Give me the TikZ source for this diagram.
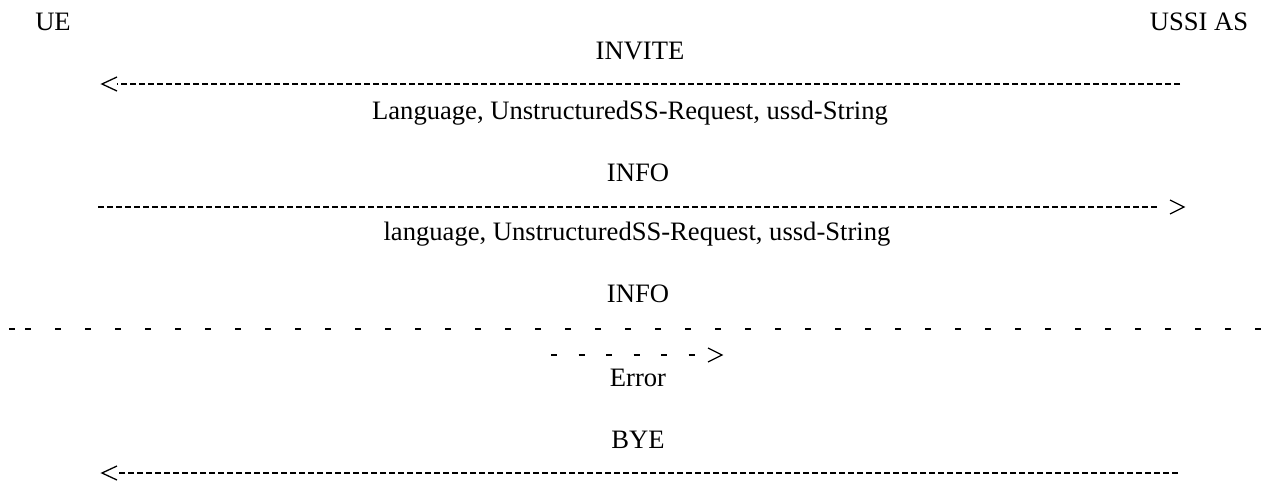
\documentclass[tikz,border=0pt]{standalone}
\usepackage{fontspec}
\setmainfont{Liberation Serif}
\usetikzlibrary{positioning}

\tikzset{
  lbl/.style={font=\fontsize{26.6}{30}\selectfont, inner sep=0pt, anchor=base},
  hyph/.style={line width=2pt, dash pattern=on 6.4pt off 2.6pt},
  widehyph/.style={line width=2pt, dash pattern=on 6.4pt off 23.6pt},
  chev/.style={line width=1.3pt, line join=miter},
}

\begin{document}
\begin{tikzpicture}[x=1pt,y=-1pt]
    \useasboundingbox (0,0) rectangle (1276,490);
    % end points
    \node[lbl] (ue) at (53,30) {UE};
    \node[lbl] (as) at (1199,30) {USSI AS};
    % INVITE
    \node[lbl] (invite) at (640,59) {INVITE};
    \coordinate (m1s) at (1180,84);
    \coordinate (m1e) at (117,84);
    \coordinate (m1t) at (102,84);
    \draw[hyph] (m1s) -- (m1e);
    \draw[chev] (m1t) ++(15,-7) -- (m1t) -- ++(15,7);
    \node[lbl] (p1) at (630,119) {Language, UnstructuredSS-Request, ussd-String};
    % INFO
    \node[lbl] (info1) at (638,181) {INFO};
    \coordinate (m2s) at (98,207);
    \coordinate (m2e) at (1157.4,207);
    \coordinate (m2t) at (1184,207);
    \draw[hyph] (m2s) -- (m2e);
    \draw[chev] (m2t) ++(-14,-7) -- (m2t) -- ++(-14,7);
    \node[lbl] (p2) at (637,240) {language, UnstructuredSS-Request, ussd-String};
    % INFO (spaced out)
    \node[lbl] (info2) at (638,302) {INFO};
    \coordinate (m3a) at (9,329);
    \coordinate (m3s) at (25,329);
    \coordinate (m3e) at (1276,329);
    \draw[hyph] (m3a) -- ++(6.4,0);
    \draw[widehyph] (m3s) -- (m3e);
    \coordinate (m4s) at (551,355);
    \coordinate (m4e) at (696,355);
    \coordinate (m4t) at (722,355);
    \draw[widehyph, dash pattern=on 6.4pt off 21.1pt] (m4s) -- (m4e);
    \draw[chev] (m4t) ++(-14,-7) -- (m4t) -- ++(-14,7);
    \node[lbl] (err) at (638,386) {Error};
    % BYE
    \node[lbl] (bye) at (638,448) {BYE};
    \coordinate (m5s) at (1178,473);
    \coordinate (m5e) at (117,473);
    \coordinate (m5t) at (102,473);
    \draw[hyph] (m5s) -- (m5e);
    \draw[chev] (m5t) ++(15,-7) -- (m5t) -- ++(15,7);
\end{tikzpicture}
\end{document}
